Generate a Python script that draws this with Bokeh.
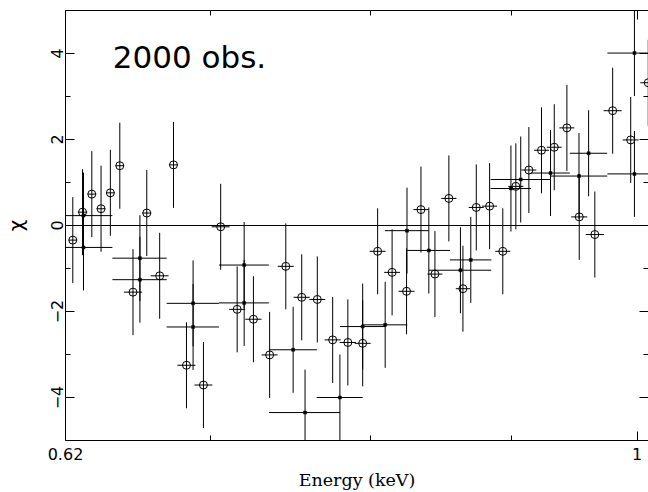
import numpy as np
from bokeh.plotting import figure
from bokeh.models import (FixedTicker, LinearAxis, LogAxis, Span, Label, Range1d,
                          ColumnDataSource, CustomJSTickFormatter)
from bokeh.embed import file_html
from bokeh.resources import INLINE

# Residuals (chi) of the 2000 observation, first data group (open circles)
circle_energy = [0.6238, 0.6289, 0.6338, 0.6387, 0.6437, 0.6488, 0.6560, 0.6636, 0.6708, 0.6786,
                 0.6860, 0.6958, 0.7059, 0.7157, 0.7255, 0.7354, 0.7454, 0.7554, 0.7653, 0.7752,
                 0.7851, 0.7949, 0.8049, 0.8147, 0.8246, 0.8346, 0.8444, 0.8543, 0.8644, 0.8741,
                 0.8839, 0.8937, 0.9035, 0.9134, 0.9231, 0.9330, 0.9429, 0.9527, 0.9652, 0.9797,
                 0.9946, 1.0093]
circle_halfwidth = [0.0022, 0.0025, 0.0023, 0.0023, 0.0023, 0.0023, 0.0050, 0.0025, 0.0050, 0.0026,
                    0.0052, 0.0052, 0.0053, 0.0048, 0.0049, 0.0049, 0.0050, 0.0051, 0.0051, 0.0052,
                    0.0053, 0.0053, 0.0054, 0.0054, 0.0055, 0.0052, 0.0053, 0.0054, 0.0051, 0.0055,
                    0.0055, 0.0056, 0.0057, 0.0057, 0.0058, 0.0058, 0.0059, 0.0064, 0.0073, 0.0074,
                    0.0066, 0.0067]
circle_chi = [-0.34, 0.31, 0.73, 0.39, 0.76, 1.39, -1.55, 0.29, -1.17, 1.41,
              -3.25, -3.71, -0.03, -1.95, -2.18, -3.01, -0.95, -1.67, -1.72, -2.66,
              -2.72, -2.74, -0.60, -1.09, -1.53, 0.37, -1.13, 0.63, -1.47, 0.42,
              0.45, -0.60, 0.91, 1.29, 1.75, 1.82, 2.27, 0.20, -0.21, 2.67,
              1.99, 3.32]

# Second data group (small dots), wider energy bins
dot_energy = [0.6294, 0.6294, 0.6598, 0.6598, 0.6898, 0.6898, 0.7199, 0.7199, 0.7500, 0.7575,
              0.7799, 0.7949, 0.8100, 0.8249, 0.8401, 0.8626, 0.8701, 0.8998, 0.9072, 0.9301,
              0.9525, 0.9602, 0.9977, 0.9977]
dot_halfwidth = [0.0154, 0.0154, 0.0150, 0.0150, 0.0151, 0.0151, 0.0150, 0.0150, 0.0150, 0.0225,
                 0.0150, 0.0150, 0.0151, 0.0151, 0.0150, 0.0225, 0.0151, 0.0152, 0.0225, 0.0151,
                 0.0228, 0.0150, 0.0223, 0.0223]
dot_chi = [0.23, -0.51, -0.76, -1.26, -1.81, -2.36, -0.92, -1.80, -2.89, -4.35,
           -4.00, -2.35, -2.31, -0.12, -0.58, -1.04, -0.80, 0.86, 1.07, 1.22,
           1.15, 1.68, 1.20, 4.01]

# chi residuals carry unit errors
chi_error = 1.0

x_major = [0.62, 1.0]
x_minor = [0.7, 0.8, 0.9]
y_major = [-4, -2, 0, 2, 4]
y_minor = [-3, -1, 1, 3]


def make_source(energy, halfwidth, chi):
    e = np.array(energy)
    de = np.array(halfwidth)
    c = np.array(chi)
    return ColumnDataSource(dict(e=e, elo=e - de, ehi=e + de, chi=c,
                                 clo=c - chi_error, chi_hi=c + chi_error))


p = figure(width=648, height=492, x_axis_type="log",
           x_range=Range1d(0.62, 1.0095), y_range=Range1d(-5, 5),
           output_backend="svg", toolbar_location=None,
           min_border_left=64, min_border_right=0, min_border_top=10, min_border_bottom=49)
p.outline_line_color = None
p.xgrid.visible = False
p.ygrid.visible = False
p.background_fill_color = "white"
p.border_fill_color = "white"

xticker = FixedTicker(ticks=x_major, minor_ticks=x_minor)
yticker = FixedTicker(ticks=y_major, minor_ticks=y_minor)


def style_axis(ax, labels=True):
    ax.axis_line_color = "black"
    ax.axis_line_width = 1
    ax.major_tick_in = 9
    ax.major_tick_out = 0
    ax.minor_tick_in = 5
    ax.minor_tick_out = 0
    ax.major_tick_line_color = "black"
    ax.minor_tick_line_color = "black"
    ax.major_label_text_font = "DejaVu Sans"
    ax.major_label_text_font_size = "16px"
    ax.major_label_text_color = "black"
    if not labels:
        # frame sides that carry ticks but no numbers
        ax.major_label_text_font_size = "0px"
        ax.major_label_standoff = 0


xa = p.xaxis[0]
xa.ticker = xticker
xa.formatter = CustomJSTickFormatter(code="return String(tick)")
style_axis(xa)
xa.major_label_standoff = 7
xa.axis_label = "Energy (keV)"
xa.axis_label_text_font = "DejaVu Serif"
xa.axis_label_text_font_size = "17.5px"
xa.axis_label_text_font_style = "normal"
xa.axis_label_text_color = "black"
xa.axis_label_standoff = 7

ya = p.yaxis[0]
ya.ticker = yticker
style_axis(ya)
ya.major_label_orientation = "vertical"
ya.major_label_standoff = 3
ya.axis_label = "χ"
ya.axis_label_text_font = "DejaVu Sans"
ya.axis_label_text_font_size = "20px"
ya.axis_label_text_font_style = "normal"
ya.axis_label_text_color = "black"
ya.axis_label_standoff = 20

top = LogAxis(ticker=xticker)
style_axis(top, labels=False)
p.add_layout(top, "above")

right = LinearAxis(ticker=yticker)
style_axis(right, labels=False)
right.axis_line_color = None
p.add_layout(right, "right")

p.add_layout(Span(location=0, dimension="width", line_color="black", line_width=1))

cs = make_source(circle_energy, circle_halfwidth, circle_chi)
ds = make_source(dot_energy, dot_halfwidth, dot_chi)

for src in (cs, ds):
    p.segment(x0="elo", x1="ehi", y0="chi", y1="chi", source=src, line_color="black", line_width=1)
    p.segment(x0="e", x1="e", y0="clo", y1="chi_hi", source=src, line_color="black", line_width=1)

p.scatter(x="e", y="chi", source=cs, marker="circle", size=8,
          fill_color=None, line_color="black", line_width=1)
p.scatter(x="e", y="chi", source=ds, marker="square", size=3,
          fill_color="black", line_color="black", line_width=0.5)

p.add_layout(Label(x=0.645, y=3.92, text="2000 obs.", text_font="DejaVu Sans",
                   text_font_size="31px", text_color="black", text_baseline="alphabetic"))

open("out.html", "w").write(file_html(p, INLINE))
